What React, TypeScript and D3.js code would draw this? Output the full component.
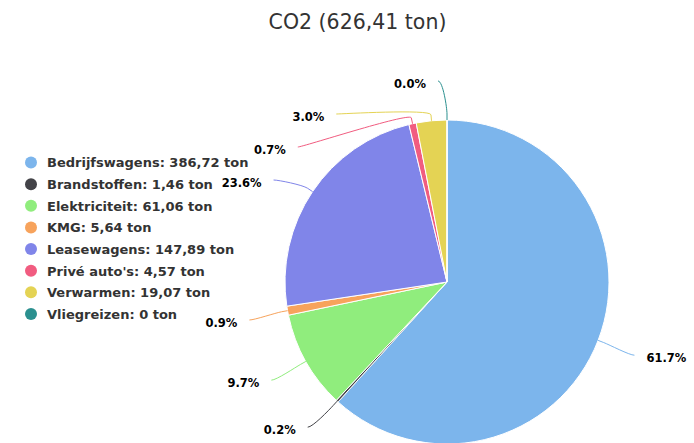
import React from "react";
import * as d3 from "d3";

const categories = [
  "Bedrijfswagens",
  "Brandstoffen",
  "Elektriciteit",
  "KMG",
  "Leasewagens",
  "Privé auto's",
  "Verwarmen",
  "Vliegreizen",
];
const values = [386.72, 1.46, 61.06, 5.64, 147.89, 4.57, 19.07, 0];
const colors = [
  "#7cb5ec",
  "#434348",
  "#90ed7d",
  "#f7a35c",
  "#8085e9",
  "#f15c80",
  "#e4d354",
  "#2b908f",
];
const unit = "ton";
const titleBase = "CO2";

const W = 694;
const H = 443;
const cx = 447;
const cy = 282;
const r = 162;
const natDist = 192;
const labelR = 201.2;
const gap = 12;
const minLabelY = 81;
const maxLabelY = 440;
const slot = 33;

const fmtNum = (v: number) => (v === 0 ? "0" : v.toFixed(2).replace(".", ","));

type LabelItem = { i: number; target: number; y: number; side: number; theta: number };

function distribute(items: LabelItem[]) {
  const sorted = [...items].sort((a, b) => a.target - b.target);
  let clusters = sorted.map((it) => ({ members: [it], start: 0 }));
  const place = (c: { members: LabelItem[]; start: number }) => {
    const n = c.members.length;
    const mean = d3.mean(c.members, (m) => m.target) as number;
    let start = mean - ((n - 1) * slot) / 2;
    if (start < minLabelY) start = minLabelY;
    if (start + (n - 1) * slot > maxLabelY) start = maxLabelY - (n - 1) * slot;
    c.start = start;
  };
  let merged = true;
  while (merged) {
    merged = false;
    clusters.forEach(place);
    for (let k = 0; k < clusters.length - 1; k++) {
      const a = clusters[k];
      const b = clusters[k + 1];
      const aEnd = a.start + (a.members.length - 1) * slot;
      if (b.start < aEnd + slot) {
        a.members = a.members.concat(b.members);
        clusters.splice(k + 1, 1);
        merged = true;
        break;
      }
    }
  }
  clusters.forEach((c) => c.members.forEach((m, j) => (m.y = c.start + j * slot)));
}

export default function App() {
  const total = d3.sum(values);
  const pie = d3
    .pie<number>()
    .sort(null)
    .startAngle(0)
    .endAngle(2 * Math.PI)(values);
  const arc = d3.arc<d3.PieArcDatum<number>>().innerRadius(0).outerRadius(r);

  const items: LabelItem[] = pie.map((p, i) => {
    const theta = (p.startAngle + p.endAngle) / 2;
    const side = theta >= Math.PI ? -1 : 1;
    return { i, theta, side, target: cy - natDist * Math.cos(theta) + 4, y: 0 };
  });
  distribute(items.filter((d) => d.side < 0));
  distribute(items.filter((d) => d.side > 0));

  const labels = items.map((it) => {
    const dy = it.y - cy;
    const lx = cx + it.side * Math.sqrt(Math.max(0, labelR * labelR - dy * dy));
    const tx = cx + r * Math.sin(it.theta);
    const ty = cy - r * Math.cos(it.theta);
    const bx = cx + (r + 6) * Math.sin(it.theta);
    const by = cy - (r + 6) * Math.cos(it.theta);
    const c1x = lx + (it.side > 0 ? -5 : 5);
    const path = `M${lx},${it.y}C${c1x},${it.y} ${2 * bx - tx},${2 * by - ty} ${bx},${by}L${tx},${ty}`;
    return {
      ...it,
      lx,
      path,
      text: ((values[it.i] / total) * 100).toFixed(1) + "%",
      textX: lx + it.side * gap,
    };
  });

  const legendY = d3.scaleLinear().domain([0, categories.length - 1]).range([162.5, 314]);

  return (
    <svg
      width={W}
      height={H}
      style={{ position: "absolute", left: 0, top: 0, background: "#fff" }}
      fontFamily="'DejaVu Sans', Verdana, sans-serif"
    >
      <rect width={W} height={H} fill="#fff" />
      <text x={357.5} y={29} textAnchor="middle" fontSize={20.5} fill="#333333">
        {`${titleBase} (${fmtNum(total)} ${unit})`}
      </text>
      <g>
        {pie.map((p, i) => (
          <path
            key={i}
            d={arc(p) || ""}
            transform={`translate(${cx},${cy})`}
            fill={colors[i]}
            stroke="#ffffff"
            strokeWidth={1}
            strokeLinejoin="round"
          />
        ))}
      </g>
      <g>
        {labels.map((l) => (
          <path key={l.i} d={l.path} fill="none" stroke={colors[l.i]} strokeWidth={1} />
        ))}
      </g>
      <g>
        {labels.map((l) => (
          <text
            key={l.i}
            x={l.textX}
            y={l.y + 7}
            textAnchor={l.side > 0 ? "start" : "end"}
            fontSize={11.5}
            fontWeight="bold"
            fill="#000"
          >
            {l.text}
          </text>
        ))}
      </g>
      <g>
        {categories.map((c, i) => (
          <g key={c}>
            <circle cx={31} cy={legendY(i)} r={6} fill={colors[i]} />
            <text x={47} y={legendY(i) + 4.8} fontSize={13} fontWeight="bold" fill="#333333">
              {`${c}: ${fmtNum(values[i])} ${unit}`}
            </text>
          </g>
        ))}
      </g>
    </svg>
  );
}
